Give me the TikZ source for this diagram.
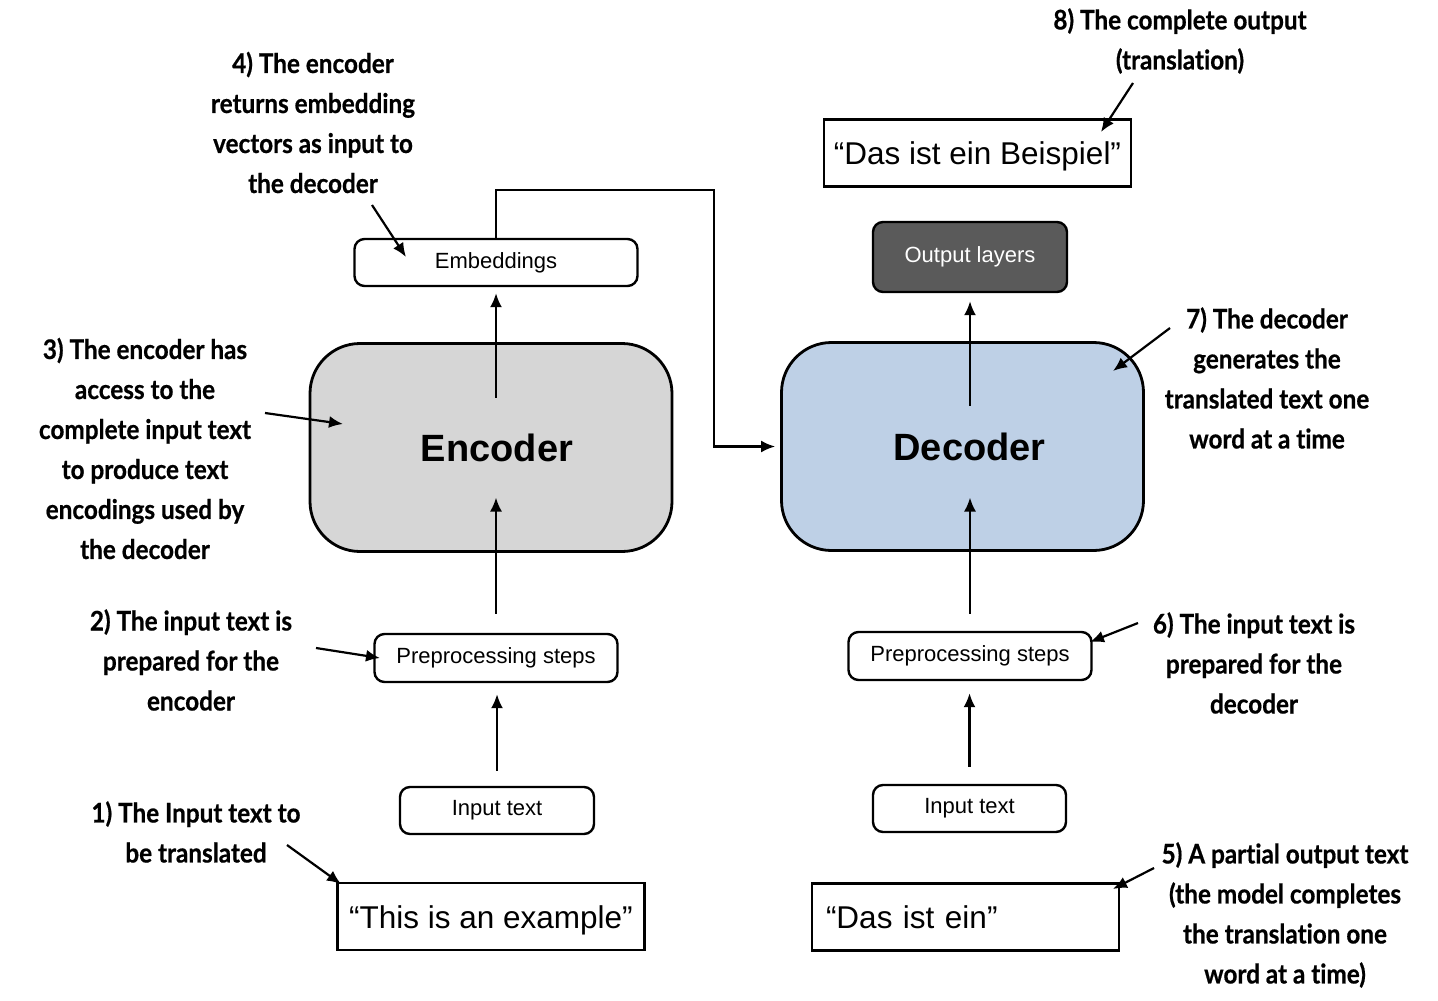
\documentclass[tikz,border=0pt]{standalone}
\usepackage{fontspec}
\setmainfont{Liberation Sans}
\newfontfamily\notefont[FakeStretch=0.9, RawFeature=-liga, BoldFeatures={FakeBold=0.6}]{Lato}
\usetikzlibrary{arrows.meta}

\definecolor{encgray}{RGB}{214,214,214}
\definecolor{decblue}{RGB}{190,208,230}
\definecolor{outgray}{RGB}{90,90,90}

\begin{document}
\begin{tikzpicture}[x=1pt, y=-1pt,
    box/.style={draw, rounded corners=10pt, line width=2.4pt, inner sep=0pt, font=\fontsize{22}{26}\selectfont},
    bigbox/.style={draw, rounded corners=50pt, line width=2.8pt, inner sep=0pt, minimum width=362pt, minimum height=208pt, font=\fontsize{38}{44}\selectfont\bfseries},
    sentence/.style={draw, line width=2.4pt, inner sep=0pt, minimum width=307pt, minimum height=67pt, text height=24pt, text depth=1pt, font=\fontsize{31.5}{36}\selectfont},
    note/.style={align=center, inner sep=0pt, font=\notefont\bfseries\fontsize{27}{40}\selectfont},
    arr/.style={line width=2.2pt, -{Latex[length=14pt, width=12pt]}}]

			\useasboundingbox (0,0) rectangle (1438,1001);

			% Encoder side
			\node[bigbox, fill=encgray] (enc) at (491,447.5) {\hspace*{12pt}Encoder};
			\node[box, minimum width=283pt, minimum height=47pt] (emb) at (496,262.5) {Embeddings};
			\node[box, minimum width=243pt, minimum height=48pt] (lpre) at (496,658) {Preprocessing steps};
			\node[box, minimum width=194pt, minimum height=47pt] (lin) at (497,810.5) {Input text};
			\node[sentence] (lsent) at (491,916.5) {“This is an example”};

			% Decoder side
			\node[bigbox, fill=decblue] (dec) at (962.5,446.5) {\hspace*{14pt}Decoder};
			\node[box, fill=outgray, text=white, minimum width=194pt, minimum height=70pt] (out) at (970,257) {Output layers};
			\node[sentence] (rtop) at (977.5,153) {“Das ist ein Beispiel”};
			\node[box, minimum width=243pt, minimum height=48pt] (rpre) at (970,656) {Preprocessing steps};
			\node[box, minimum width=193pt, minimum height=47pt] (rin) at (969.5,808.5) {Input text};
			\node[sentence, text width=279pt, align=left, inner xsep=14pt] (rsent) at (965.5,917) {“Das ist ein”};

			% Arrows between the boxes
			\draw[arr, shorten <=15pt, shorten >=11pt] (lin.north) -- (lin.north |- lpre.south);
			\draw[arr, shorten <=19pt, shorten >=50pt] (lpre.north) -- (lpre.north |- enc.center);
			\draw[arr, shorten <=50pt, shorten >=6pt] (enc.center -| emb.south) -- (emb.south);

			\draw[arr, shorten <=17pt, shorten >=12pt] (rin.north) -- (rin.north |- rpre.south);
			\draw[arr, shorten <=17pt, shorten >=51pt] (rpre.north) -- (rpre.north |- dec.center);
			\draw[arr, shorten <=41pt, shorten >=8pt] (dec.center -| out.south) -- (out.south);

			% Embeddings go over to the decoder
			\coordinate (hop) at (714,190);
			\draw[arr, shorten >=5pt] (emb.north) |- (hop) |- (dec.west);

			% Notes
			\node[note] (n1) at (196,832) {1) The Input text to\\be translated};
			\node[note] (n2) at (191,660) {2) The input text is\\prepared for the\\encoder};
			\node[note] (n3) at (145,448.5) {3) The encoder has\\access to the\\complete input text\\to produce text\\encodings used by\\the decoder};
			\node[note] (n4) at (313,122.5) {4) The encoder\\returns embedding\\vectors as input to\\the decoder};
			\node[note] (n5) at (1285,915) {5) A partial output text\\(the model completes\\the translation one\\word at a time)};
			\node[note] (n6) at (1254,663) {6) The input text is\\prepared for the\\decoder};
			\node[note] (n7) at (1267,378) {7) The decoder\\generates the\\translated text one\\word at a time};
			\node[note] (n8) at (1180,41) {8) The complete output\\(translation)};

			% Pointers from the notes
			\coordinate (p1a) at (287,845);  \coordinate (p1b) at (341,884);
			\coordinate (p2a) at (316,648);  \coordinate (p2b) at (380,658);
			\coordinate (p3a) at (265,413);  \coordinate (p3b) at (343,424);
			\coordinate (p4a) at (372,205);  \coordinate (p4b) at (406,257);
			\coordinate (p5a) at (1154,868); \coordinate (p5b) at (1113,889);
			\coordinate (p6a) at (1138,623); \coordinate (p6b) at (1090,642);
			\coordinate (p7a) at (1170,328); \coordinate (p7b) at (1113,371);
			\coordinate (p8a) at (1133,83);  \coordinate (p8b) at (1101,132);

			\draw[arr] (p1a) -- (p1b);
			\draw[arr] (p2a) -- (p2b);
			\draw[arr] (p3a) -- (p3b);
			\draw[arr] (p4a) -- (p4b);
			\draw[arr] (p5a) -- (p5b);
			\draw[arr] (p6a) -- (p6b);
			\draw[arr] (p7a) -- (p7b);
			\draw[arr] (p8a) -- (p8b);

		\end{tikzpicture}
\end{document}
